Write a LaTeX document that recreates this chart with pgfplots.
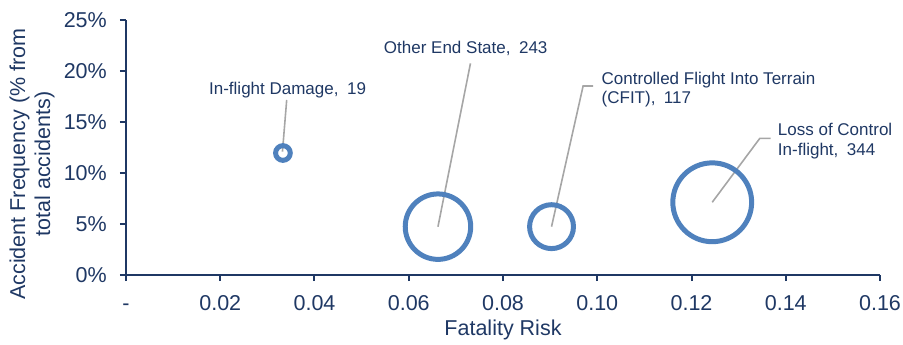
\documentclass[border=0pt]{standalone}
\usepackage{pgfplots}
\pgfplotsset{compat=1.18}
\usepackage{pgfplotstable}
\usetikzlibrary{calc}
\usepackage{fontspec}
\setmainfont{Liberation Sans}
\definecolor{navy}{HTML}{1F3864}
\definecolor{bubble}{HTML}{4F81BD}
\definecolor{leader}{HTML}{A6A6A6}
\pgfplotstableread{
x y n
0.0333 11.96 19
0.0662 4.74 243
0.0903 4.74 117
0.1244 7.13 344
}\bubbles
\begin{document}
\begin{tikzpicture}
\begin{axis}[
 scale only axis, width=754pt, height=255pt,
 xmin=0, xmax=0.16, ymin=0, ymax=25,
 axis x line=bottom, axis y line=left,
 axis line style={-, navy, line width=2pt},
 xtick={0,0.02,0.04,0.06,0.08,0.10,0.12,0.14,0.16},
 xticklabels={-,0.02,0.04,0.06,0.08,0.10,0.12,0.14,0.16},
 ytick={0,5,10,15,20,25},
 yticklabel={\pgfmathprintnumber{\tick}\%},
 /pgf/number format/assume math mode=true,
 tick align=outside, major tick length=6pt,
 tick style={navy, line width=2pt},
 ticklabel style={font=\fontsize{21.5}{25}\selectfont, text=navy, inner sep=0pt},
 xticklabel style={yshift=-14pt, text height=15.4pt, text depth=0pt},
 yticklabel style={xshift=-13pt},
 label style={font=\fontsize{21.5}{25}\selectfont, text=navy},
 xlabel={Fatality Risk},
 xlabel style={at={($(rel axis cs:0.5,0)+(0,-55pt)$)}, anchor=center},
 ylabel={Accident Frequency (\% from\\total accidents)},
 ylabel style={align=center, at={($(rel axis cs:0,0.435)+(-94pt,0)$)}, anchor=center},
 clip=false,
]
\addplot[scatter, only marks, mark=o,
  scatter/use mapped color={draw=bubble},
  mark options={line width=5pt},
  visualization depends on={2.26*sqrt(\thisrow{n})-2.5 \as \perpointmarksize},
  scatter/@pre marker code/.append style={/tikz/mark size=\perpointmarksize pt},
] table[x=x, y=y, meta=n] {\bubbles};
\draw[leader, line width=1.6pt] (axis cs:0.0332,12.09) -- (axis cs:0.0341,17.16);
\draw[leader, line width=1.6pt] (axis cs:0.0662,4.74) -- (axis cs:0.0731,20.75);
\draw[leader, line width=1.6pt] (axis cs:0.0903,4.74) -- (axis cs:0.0970,18.53) -- (axis cs:0.0991,18.53);
\draw[leader, line width=1.6pt] (axis cs:0.1244,7.13) -- (axis cs:0.1345,13.40) -- (axis cs:0.1368,13.40);
\begin{scope}[every node/.style={font=\fontsize{17}{20}\selectfont, text=navy, inner sep=0pt, anchor=base west}]
\node at (axis cs:0.0176,17.65) {In-flight Damage,\enspace 19};
\node at (axis cs:0.0547,21.67) {Other End State,\enspace 243};
\node at (axis cs:0.1009,18.70) {Controlled Flight Into Terrain};
\node at (axis cs:0.1009,16.83) {(CFIT),\enspace 117};
\node at (axis cs:0.1383,13.63) {Loss of Control};
\node at (axis cs:0.1383,11.76) {In-flight,\enspace 344};
\end{scope}
\end{axis}
\pgfresetboundingbox
\path[use as bounding box] (-126pt,-70pt) rectangle (777pt,275pt);
\end{tikzpicture}
\end{document}
